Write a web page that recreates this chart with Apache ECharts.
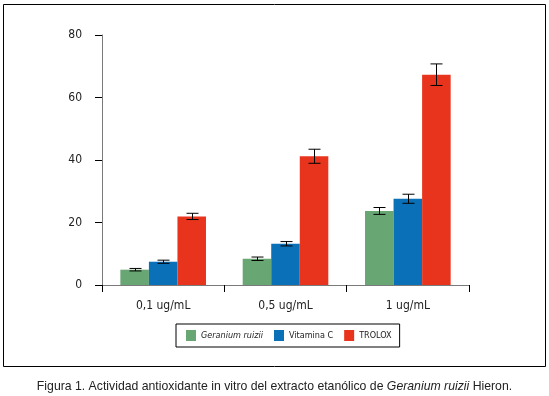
<!DOCTYPE html>
<html>
<head>
<meta charset="utf-8">
<script src="https://cdn.jsdelivr.net/npm/echarts@6/dist/echarts.min.js"></script>
<style>
  html, body { margin: 0; padding: 0; background: #fff; }
  #chart { width: 549px; height: 396px; }
</style>
</head>
<body>
<div id="chart"></div>
<script>
// datos
const categories = ['0,1 ug/mL', '0,5 ug/mL', '1 ug/mL'];
const seriesNames = ['Geranium ruizii', 'Vitamina C', 'TROLOX'];
const geranium = [4.9, 8.4, 23.7];
const geraniumErr = [0.4, 0.55, 1.1];
const vitaminaC = [7.45, 13.2, 27.6];
const vitaminaCErr = [0.5, 0.7, 1.45];
const trolox = [21.95, 41.2, 67.3];
const troloxErr = [1.0, 2.25, 3.45];
const yTicks = [0, 20, 40, 60, 80];

const colors = ['#68a673', '#0a70b8', '#e8341d'];
const narrow = '"Liberation Sans Narrow", "DejaVu Sans Condensed", "Liberation Sans", sans-serif';

const chart = echarts.init(document.getElementById('chart'));

const values = [geranium, vitaminaC, trolox];
const errors = [geraniumErr, vitaminaCErr, troloxErr];

// barras de error (custom), desplazadas como las barras agrupadas
function errorSeries(idx) {
    return {
        type: 'custom',
        name: seriesNames[idx] + ' err',
        z: 10,
        data: values[idx].map((v, i) => [i, v - errors[idx][i], v + errors[idx][i]]),
        renderItem: function (params, api) {
            const band = api.size([1, 0])[0];
            const bw = band * 0.7 / 3;
            const lo = api.coord([api.value(0), api.value(1)]);
            const hi = api.coord([api.value(0), api.value(2)]);
            const x = Math.round(lo[0] + (idx - 1) * bw) + 0.5;
            const cap = 6;
            const st = { stroke: '#000', lineWidth: 1 };
            return {
                type: 'group',
                children: [
                    { type: 'line', shape: { x1: x, y1: hi[1], x2: x, y2: lo[1] }, style: st },
                    { type: 'line', shape: { x1: x - cap, y1: hi[1], x2: x + cap, y2: hi[1] }, style: st },
                    { type: 'line', shape: { x1: x - cap, y1: lo[1], x2: x + cap, y2: lo[1] }, style: st }
                ]
            };
        }
    };
}

const barSeries = seriesNames.map((name, idx) => ({
    type: 'bar',
    name: name,
    data: values[idx],
    barGap: '0%',
    barCategoryGap: '30%',
    itemStyle: { color: colors[idx] }
}));

chart.setOption({
    animation: false,
    grid: { left: 102, right: 80, top: 35, bottom: 111 },
    legend: {
        data: seriesNames,
        left: 176,
        top: 324,
        orient: 'horizontal',
        itemWidth: 10,
        itemHeight: 11,
        itemGap: 11,
        padding: [6, 8, 6, 10],
        borderColor: '#000',
        borderWidth: 1,
        borderRadius: 0,
        icon: 'rect',
        selectedMode: false,
        textStyle: {
            fontFamily: narrow, fontSize: 9, color: '#222',
            rich: {
                i: { fontFamily: narrow, fontSize: 9, fontStyle: 'italic', color: '#222' }
            }
        },
        formatter: function (name) {
            return name === 'Geranium ruizii' ? '{i|' + name + '}' : name;
        }
    },
    xAxis: {
        type: 'category',
        data: categories,
        axisLine: { lineStyle: { color: '#7a7a7a', width: 1 } },
        axisTick: { show: true, length: 7, lineStyle: { color: '#000' } },
        axisLabel: { margin: 15, fontFamily: narrow, fontSize: 12, color: '#222' }
    },
    yAxis: {
        type: 'value',
        min: yTicks[0],
        max: yTicks[yTicks.length - 1],
        interval: 20,
        axisLine: { show: true, lineStyle: { color: '#7a7a7a', width: 1 } },
        axisTick: { show: true, length: 7, lineStyle: { color: '#000' } },
        splitLine: { show: false },
        axisLabel: { margin: 20, fontFamily: narrow, fontSize: 12, color: '#222' }
    },
    graphic: [
        {
            type: 'rect',
            shape: { x: 3.5, y: 4.5, width: 542, height: 362 },
            style: { fill: 'none', stroke: '#000', lineWidth: 1 },
            silent: true
        },
        {
            type: 'text',
            left: 'center',
            top: 381,
            style: {
                text: '{a|Figura 1. Actividad antioxidante in vitro del extracto etanólico de }{b|Geranium ruizii}{a| Hieron.}',
                rich: {
                    a: { fontFamily: '"Liberation Sans", Arial, sans-serif', fontSize: 12.25, fill: '#222' },
                    b: { fontFamily: '"Liberation Sans", Arial, sans-serif', fontSize: 12.25, fontStyle: 'italic', fill: '#222' }
                }
            }
        }
    ],
    series: barSeries.concat([errorSeries(0), errorSeries(1), errorSeries(2)])
});

window.addEventListener('resize', () => {
    chart.resize();
});
</script>
</body>
</html>
